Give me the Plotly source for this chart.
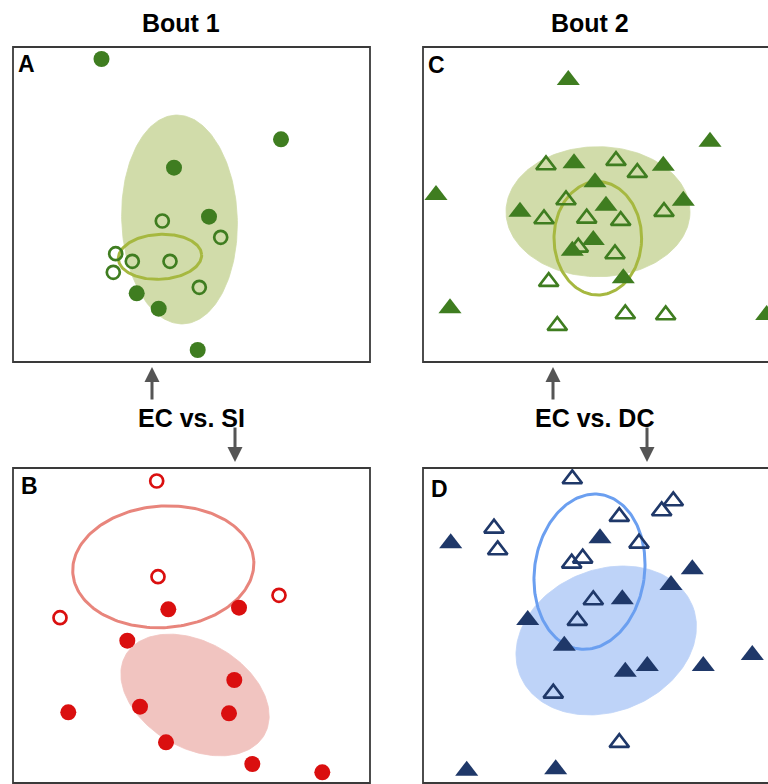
import numpy as np
import plotly.graph_objects as go

# ---------------- data (NMDS-like coordinates) ----------------
# Panel A - Bout 1, EC vs. SI (green circles)
a_filled_x = [-0.900, 0.895, -0.175, 0.175, -0.548, -0.328, 0.062]
a_filled_y = [1.455, 0.652, 0.368, -0.122, -0.888, -1.042, -1.455]
a_open_x = [-0.292, 0.292, -0.758, -0.592, -0.215, -0.782, 0.078]
a_open_y = [-0.165, -0.328, -0.492, -0.568, -0.568, -0.678, -0.828]

# Panel B - Bout 1, EC vs. SI (red circles)
b_filled_x = [-0.232, 0.475, -0.642, 0.428, -1.232, -0.515, 0.375, -0.255, 0.608, 1.308]
b_filled_y = [0.162, 0.178, -0.152, -0.545, -0.868, -0.812, -0.878, -1.168, -1.385, -1.468]
b_open_x = [-0.348, -0.335, 0.875, -1.315]
b_open_y = [1.445, 0.488, 0.302, 0.078]

# Panel C - Bout 2, EC vs. DC (green triangles)
c_filled_x = [-0.332, 1.085, -1.655, -0.275, 0.618, -0.065, 0.818, -0.815, 0.045,
              -0.082, -0.292, 0.218, -1.515, 1.652]
c_filled_y = [1.245, 0.628, 0.095, 0.412, 0.388, 0.222, 0.038, -0.072, -0.012,
              -0.355, -0.462, -0.738, -1.038, -1.105]
c_open_x = [-0.555, 0.145, 0.358, -0.355, -0.575, -0.148, 0.192, 0.625, -0.232,
            0.135, -0.528, 0.238, 0.642, -0.442]
c_open_y = [0.395, 0.438, 0.318, 0.045, -0.145, -0.138, -0.162, -0.072, -0.428,
            -0.495, -0.772, -1.095, -1.105, -1.212]

# Panel D - Bout 2, EC vs. DC (navy triangles)
d_filled_x = [-1.508, -0.015, 0.908, 0.695, 0.208, -0.738, -0.372, 1.508, 0.458,
              0.238, 1.018, -1.348, -0.458]
d_filled_y = [0.822, 0.872, 0.562, 0.405, 0.262, 0.055, -0.202, -0.295, -0.405,
              -0.462, -0.405, -1.452, -1.438]
d_open_x = [-0.292, -1.075, -1.038, 0.178, 0.602, 0.718, 0.375, -0.298, -0.188,
            -0.082, -0.242, -0.482, 0.178]
d_open_y = [1.465, 0.972, 0.755, 1.088, 1.145, 1.245, 0.822, 0.622, 0.672,
            0.255, 0.048, -0.678, -1.172]

# ellipse parameters: centre x, centre y, semi-axis x, semi-axis y, rotation (deg)
a_fill_ell = [-0.120, -0.150, 0.578, 1.045, 2]
a_line_ell = [-0.315, -0.523, 0.417, 0.225, 3]
b_fill_ell = [0.035, -0.695, 0.800, 0.530, -30]
b_line_ell = [-0.282, 0.587, 0.907, 0.608, 4]
c_fill_ell = [-0.035, -0.072, 0.920, 0.650, 0]
c_line_ell = [-0.037, -0.338, 0.438, 0.567, 0]
d_fill_ell = [0.047, -0.150, 0.930, 0.710, 22]
d_line_ell = [-0.120, 0.538, 0.550, 0.780, -8]

titles = ["Bout 1", "Bout 2"]
comparisons = ["EC vs. SI", "EC vs. DC"]
panel_letters = ["A", "B", "C", "D"]

# ---------------- styling ----------------
GREEN = "#3f7d20"
GREEN_FILL = "#d1dcaa"
GREEN_LINE = "#a6b840"
RED = "#da0f0f"
RED_FILL = "#f1c4c0"
RED_LINE = "#e8857c"
NAVY = "#1f3869"
BLUE_FILL = "#bed3f8"
BLUE_LINE = "#6b9ff0"

W, H = 768, 784


def px_x(p):
    return p / W


def px_y(p):
    return 1 - p / H


def ellipse(params, n=200):
    cx, cy, rx, ry, ang = params
    t = np.linspace(0, 2 * np.pi, n)
    phi = np.deg2rad(ang)
    x = cx + rx * np.cos(t) * np.cos(phi) - ry * np.sin(t) * np.sin(phi)
    y = cy + rx * np.cos(t) * np.sin(phi) + ry * np.sin(t) * np.cos(phi)
    return x, y


fig = go.Figure()


def add_panel(xa, ya, fill_ell, line_ell, fill_col, line_col,
              fx, fy, ox, oy, col, symbol, fsize, osize):
    ex, ey = ellipse(fill_ell)
    fig.add_trace(go.Scatter(x=ex, y=ey, mode="lines", fill="toself",
                             fillcolor=fill_col, line=dict(width=0.8, color=fill_col),
                             xaxis=xa, yaxis=ya, hoverinfo="skip"))
    lx, ly = ellipse(line_ell)
    fig.add_trace(go.Scatter(x=lx, y=ly, mode="lines",
                             line=dict(width=3, color=line_col),
                             xaxis=xa, yaxis=ya, hoverinfo="skip"))
    fig.add_trace(go.Scatter(x=ox, y=oy, mode="markers",
                             marker=dict(symbol=symbol + "-open", size=osize, color=col,
                                         line=dict(width=2.7, color=col)),
                             xaxis=xa, yaxis=ya))
    fig.add_trace(go.Scatter(x=fx, y=fy, mode="markers",
                             marker=dict(symbol=symbol, size=fsize, color=col,
                                         line=dict(width=0)),
                             xaxis=xa, yaxis=ya))


add_panel("x", "y", a_fill_ell, a_line_ell, GREEN_FILL, GREEN_LINE,
          a_filled_x, a_filled_y, a_open_x, a_open_y, GREEN, "circle", 16, 13)
add_panel("x2", "y2", c_fill_ell, c_line_ell, GREEN_FILL, GREEN_LINE,
          c_filled_x, c_filled_y, c_open_x, c_open_y, GREEN, "triangle-up", 20, 17)
add_panel("x3", "y3", b_fill_ell, b_line_ell, RED_FILL, RED_LINE,
          b_filled_x, b_filled_y, b_open_x, b_open_y, RED, "circle", 16, 13)
add_panel("x4", "y4", d_fill_ell, d_line_ell, BLUE_FILL, BLUE_LINE,
          d_filled_x, d_filled_y, d_open_x, d_open_y, NAVY, "triangle-up", 20, 17)

# panel boxes in pixels: left, right, top, bottom
left_l, left_r = 13, 370
right_l, right_r = 423, 780
top_t, top_b = 47, 362
bot_t, bot_b = 468, 783

ax_common = dict(showgrid=False, zeroline=False, showticklabels=False,
                 ticks="", showline=False, fixedrange=True)
xr_left = [-1.785, 1.785]
xr_right = [-1.785, (W - (right_l + right_r) / 2) / 100]
yr = [-1.575, 1.575]

fig.update_layout(
    xaxis=dict(domain=[px_x(left_l), px_x(left_r)], range=xr_left, anchor="y", **ax_common),
    yaxis=dict(domain=[px_y(top_b), px_y(top_t)], range=yr, anchor="x", **ax_common),
    xaxis2=dict(domain=[px_x(right_l), 1.0], range=xr_right, anchor="y2", **ax_common),
    yaxis2=dict(domain=[px_y(top_b), px_y(top_t)], range=yr, anchor="x2", **ax_common),
    xaxis3=dict(domain=[px_x(left_l), px_x(left_r)], range=xr_left, anchor="y3", **ax_common),
    yaxis3=dict(domain=[px_y(bot_b), px_y(bot_t)], range=yr, anchor="x3", **ax_common),
    xaxis4=dict(domain=[px_x(right_l), 1.0], range=xr_right, anchor="y4", **ax_common),
    yaxis4=dict(domain=[px_y(bot_b), px_y(bot_t)], range=yr, anchor="x4", **ax_common),
)

# borders
shapes = []
for (l, r, t, b) in [(left_l, left_r, top_t, top_b), (right_l, right_r, top_t, top_b),
                     (left_l, left_r, bot_t, bot_b), (right_l, right_r, bot_t, bot_b)]:
    shapes.append(dict(type="rect", xref="paper", yref="paper",
                       x0=px_x(l), x1=px_x(r), y0=px_y(b), y1=px_y(t),
                       line=dict(color="#3a3a3a", width=1.8), fillcolor="rgba(0,0,0,0)"))

FONT = "Liberation Sans, Arial, sans-serif"
ann = []
# column titles
for txt, cxp in zip(titles, [181, 590]):
    ann.append(dict(text="<b>%s</b>" % txt, x=px_x(cxp), y=px_y(23), xref="paper", yref="paper",
                    showarrow=False, xanchor="center", yanchor="middle",
                    font=dict(family=FONT, size=25, color="#000")))
# comparison labels
for txt, cxp in zip(comparisons, [191, 594]):
    ann.append(dict(text="<b>%s</b>" % txt, x=px_x(cxp), y=px_y(418), xref="paper", yref="paper",
                    showarrow=False, xanchor="center", yanchor="middle",
                    font=dict(family=FONT, size=25, color="#000")))
# panel letters
for txt, (lx, ly) in zip(panel_letters, [(16, 64), (19, 486), (426, 65), (429, 489)]):
    ann.append(dict(text="<b>%s</b>" % txt, x=px_x(lx), y=px_y(ly), xref="paper", yref="paper",
                    showarrow=False, xanchor="left", yanchor="middle",
                    font=dict(family=FONT, size=23, color="#000")))
# arrows
for (ax_x, tip_y, dy) in [(152, 367, 34), (235, 462, -36), (553, 367, 34), (647, 462, -36)]:
    ann.append(dict(text="", x=px_x(ax_x), y=px_y(tip_y), xref="paper", yref="paper",
                    ax=0, ay=dy, axref="pixel", ayref="pixel", showarrow=True,
                    arrowhead=2, arrowsize=1.0, arrowwidth=3, arrowcolor="#555555"))

fig.update_layout(
    width=W, height=H, margin=dict(l=0, r=0, t=0, b=0),
    paper_bgcolor="white", plot_bgcolor="white",
    showlegend=False, shapes=shapes, annotations=ann,
)

fig.write_html(
    "out.html",
    config={"displayModeBar": False},
    post_script="document.body.style.margin='0';document.body.style.padding='0';"
                "document.body.style.overflow='hidden';"
                "document.documentElement.style.overflow='hidden';",
)
